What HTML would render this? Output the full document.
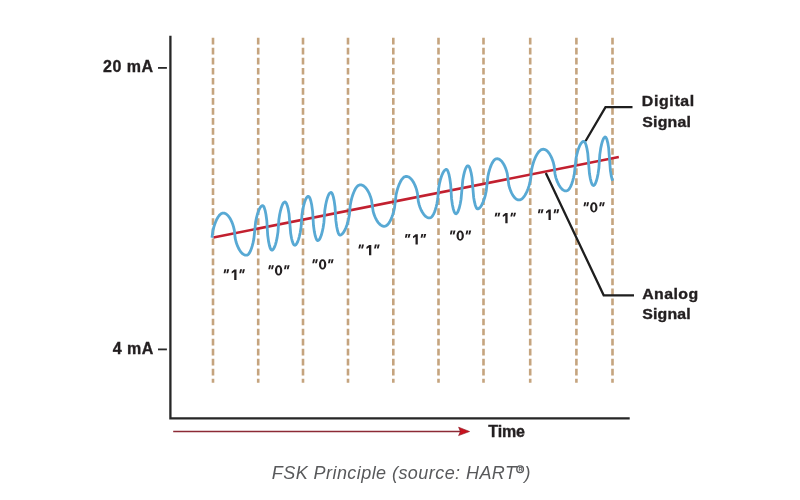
<!DOCTYPE html>
<html><head><meta charset="utf-8"><style>
html,body{margin:0;padding:0;background:#fff;}
body{width:800px;height:500px;overflow:hidden;}
svg{display:block;will-change:transform;}
text{font-family:"Liberation Sans",sans-serif;}
.lbl{font-weight:bold;fill:#231f20;stroke:#231f20;stroke-width:0.35px;}
.bit{font-weight:bold;font-size:14px;fill:#231f20;}
.q{font-style:italic;}
.cap{font-style:italic;font-size:18px;fill:#58595b;}
</style></head><body>
<svg width="800" height="500" viewBox="0 0 800 500">
<rect width="800" height="500" fill="#fff"/>
<g stroke="#c5a47e" stroke-width="2.6" stroke-dasharray="6.7 3.33" fill="none"><line x1="213.0" y1="37.8" x2="213.0" y2="382.8"/><line x1="258.2" y1="37.8" x2="258.2" y2="382.8"/><line x1="303.0" y1="37.8" x2="303.0" y2="382.8"/><line x1="348.0" y1="37.8" x2="348.0" y2="382.8"/><line x1="393.3" y1="37.8" x2="393.3" y2="382.8"/><line x1="438.5" y1="37.8" x2="438.5" y2="382.8"/><line x1="483.5" y1="37.8" x2="483.5" y2="382.8"/><line x1="530.2" y1="37.8" x2="530.2" y2="382.8"/><line x1="576.4" y1="37.8" x2="576.4" y2="382.8"/><line x1="612.5" y1="37.8" x2="612.5" y2="382.8"/></g>
<path d="M170.4,35.8 V418.4 H629.7" stroke="#262626" stroke-width="2.3" fill="none"/>
<line x1="158" y1="67.9" x2="166.9" y2="67.9" stroke="#2a2a2a" stroke-width="1.8"/>
<line x1="158" y1="349.4" x2="166.9" y2="349.4" stroke="#2a2a2a" stroke-width="1.8"/>
<text x="103.05" y="71.80" class="lbl" font-size="16.0" letter-spacing="0.488">20 mA</text>
<text x="112.66" y="354.00" class="lbl" font-size="16.0" letter-spacing="0.546">4 mA</text>
<line x1="213.4" y1="237.42" x2="618.8" y2="157.04" stroke="#c2202f" stroke-width="2.5"/>
<path d="M212.00,237.70 L212.88,230.92 L213.75,227.39 L214.62,224.58 L215.50,222.22 L216.38,220.19 L217.25,218.45 L218.12,216.97 L219.00,215.75 L219.88,214.76 L220.75,214.01 L221.62,213.49 L222.50,213.20 L223.34,213.11 L224.19,213.19 L225.03,213.44 L225.88,213.85 L226.72,214.43 L227.57,215.18 L228.41,216.11 L229.26,217.23 L230.10,218.54 L230.95,220.07 L231.79,221.86 L232.64,223.97 L233.48,226.56 L234.33,230.17 L235.17,238.13 L236.02,241.74 L236.86,244.33 L237.71,246.44 L238.55,248.23 L239.40,249.76 L240.24,251.07 L241.09,252.19 L241.93,253.12 L242.78,253.87 L243.62,254.45 L244.47,254.86 L245.31,255.11 L246.16,255.19 L247.00,255.10 L247.86,254.72 L248.72,253.91 L249.58,252.67 L250.44,250.99 L251.31,248.84 L252.17,246.18 L253.03,242.89 L253.89,238.64 L254.75,230.35 L255.61,222.06 L256.47,217.81 L257.33,214.52 L258.19,211.86 L259.06,209.71 L259.92,208.03 L260.78,206.79 L261.64,205.98 L262.50,205.60 L263.36,206.00 L264.23,207.55 L265.09,210.30 L265.95,214.44 L266.82,220.77 L267.68,235.03 L268.55,241.36 L269.41,245.50 L270.27,248.25 L271.14,249.80 L272.00,250.20 L272.85,249.73 L273.71,248.65 L274.56,246.96 L275.41,244.62 L276.27,241.57 L277.12,237.61 L277.97,232.04 L278.83,220.06 L279.68,214.49 L280.53,210.53 L281.39,207.48 L282.24,205.14 L283.09,203.45 L283.95,202.37 L284.80,201.90 L285.64,202.20 L286.48,203.44 L287.32,205.66 L288.17,208.96 L289.01,213.68 L289.85,223.60 L290.69,233.52 L291.53,238.24 L292.38,241.54 L293.22,243.76 L294.06,245.00 L294.90,245.30 L295.79,244.82 L296.67,243.72 L297.56,242.00 L298.45,239.63 L299.33,236.53 L300.22,232.52 L301.11,226.87 L301.99,214.73 L302.88,209.08 L303.77,205.07 L304.65,201.97 L305.54,199.60 L306.43,197.88 L307.31,196.78 L308.20,196.30 L309.08,196.69 L309.96,198.23 L310.85,200.96 L311.73,205.07 L312.61,211.36 L313.49,225.54 L314.37,231.83 L315.25,235.94 L316.14,238.67 L317.02,240.21 L317.90,240.60 L318.76,240.13 L319.62,239.05 L320.48,237.36 L321.34,235.03 L322.20,231.98 L323.06,228.04 L323.92,222.47 L324.78,210.53 L325.64,204.96 L326.50,201.02 L327.36,197.97 L328.22,195.64 L329.08,193.95 L329.94,192.87 L330.80,192.40 L331.65,192.78 L332.49,194.26 L333.34,196.90 L334.18,200.87 L335.03,206.95 L335.87,220.65 L336.72,226.73 L337.56,230.70 L338.41,233.34 L339.25,234.82 L340.10,235.20 L340.94,234.90 L341.79,234.35 L342.63,233.53 L343.47,232.44 L344.32,231.09 L345.16,229.45 L346.00,227.51 L346.85,225.23 L347.69,222.54 L348.53,219.27 L349.38,214.81 L350.22,205.39 L351.07,200.93 L351.91,197.66 L352.75,194.97 L353.60,192.69 L354.44,190.75 L355.28,189.11 L356.13,187.76 L356.97,186.67 L357.81,185.85 L358.66,185.30 L359.50,185.00 L360.35,184.91 L361.21,184.97 L362.06,185.18 L362.91,185.55 L363.77,186.07 L364.62,186.75 L365.47,187.59 L366.33,188.60 L367.18,189.79 L368.03,191.18 L368.89,192.79 L369.74,194.67 L370.59,196.92 L371.45,199.80 L372.30,205.60 L373.15,211.40 L374.01,214.28 L374.86,216.53 L375.71,218.41 L376.57,220.02 L377.42,221.41 L378.27,222.60 L379.13,223.61 L379.98,224.45 L380.83,225.13 L381.69,225.65 L382.54,226.02 L383.39,226.23 L384.25,226.29 L385.10,226.20 L385.95,225.91 L386.80,225.39 L387.65,224.64 L388.50,223.64 L389.35,222.40 L390.20,220.90 L391.05,219.14 L391.90,217.08 L392.75,214.68 L393.60,211.83 L394.45,208.25 L395.30,201.35 L396.15,194.45 L397.00,190.87 L397.85,188.02 L398.70,185.62 L399.55,183.56 L400.40,181.80 L401.25,180.30 L402.10,179.06 L402.95,178.06 L403.80,177.31 L404.65,176.79 L405.50,176.50 L406.35,176.41 L407.20,176.49 L408.06,176.73 L408.91,177.13 L409.76,177.70 L410.61,178.44 L411.46,179.36 L412.31,180.45 L413.17,181.75 L414.02,183.26 L414.87,185.02 L415.72,187.10 L416.57,189.66 L417.42,193.22 L418.28,201.08 L419.13,204.64 L419.98,207.20 L420.83,209.28 L421.68,211.04 L422.53,212.55 L423.39,213.85 L424.24,214.94 L425.09,215.86 L425.94,216.60 L426.79,217.17 L427.64,217.57 L428.50,217.81 L429.35,217.89 L430.20,217.80 L431.04,217.45 L431.88,216.72 L432.73,215.62 L433.57,214.14 L434.41,212.25 L435.25,209.93 L436.09,207.10 L436.94,203.59 L437.78,198.75 L438.62,188.45 L439.46,183.61 L440.31,180.10 L441.15,177.27 L441.99,174.95 L442.83,173.06 L443.67,171.58 L444.52,170.48 L445.36,169.75 L446.20,169.40 L447.09,169.79 L447.98,171.33 L448.87,174.07 L449.76,178.19 L450.65,184.50 L451.55,198.70 L452.44,205.01 L453.33,209.13 L454.22,211.87 L455.11,213.41 L456.00,213.80 L456.84,213.29 L457.69,212.08 L458.53,210.16 L459.37,207.50 L460.21,203.97 L461.06,199.23 L461.90,189.80 L462.74,180.37 L463.59,175.63 L464.43,172.10 L465.27,169.44 L466.11,167.52 L466.96,166.31 L467.80,165.80 L468.63,166.10 L469.47,167.33 L470.30,169.54 L471.13,172.81 L471.97,177.50 L472.80,187.35 L473.63,197.20 L474.47,201.89 L475.30,205.16 L476.13,207.37 L476.97,208.60 L477.80,208.90 L478.64,208.59 L479.48,208.00 L480.32,207.12 L481.16,205.95 L482.00,204.48 L482.85,202.69 L483.69,200.57 L484.53,198.06 L485.37,195.04 L486.21,191.22 L487.05,183.85 L487.89,176.48 L488.73,172.66 L489.57,169.64 L490.41,167.13 L491.25,165.01 L492.10,163.22 L492.94,161.75 L493.78,160.58 L494.62,159.70 L495.46,159.11 L496.30,158.80 L497.14,158.72 L497.98,158.81 L498.82,159.08 L499.66,159.52 L500.50,160.14 L501.34,160.94 L502.18,161.93 L503.01,163.12 L503.85,164.51 L504.69,166.15 L505.53,168.08 L506.37,170.40 L507.21,173.37 L508.05,179.35 L508.89,185.33 L509.73,188.30 L510.57,190.62 L511.41,192.55 L512.25,194.19 L513.09,195.58 L513.92,196.77 L514.76,197.76 L515.60,198.56 L516.44,199.18 L517.28,199.62 L518.12,199.89 L518.96,199.98 L519.80,199.90 L520.64,199.64 L521.47,199.19 L522.31,198.56 L523.15,197.73 L523.99,196.71 L524.82,195.50 L525.66,194.08 L526.50,192.44 L527.33,190.56 L528.17,188.41 L529.01,185.91 L529.84,182.91 L530.68,178.87 L531.52,170.33 L532.36,166.29 L533.19,163.29 L534.03,160.79 L534.87,158.64 L535.70,156.76 L536.54,155.12 L537.38,153.70 L538.21,152.49 L539.05,151.47 L539.89,150.64 L540.73,150.01 L541.56,149.56 L542.40,149.30 L543.24,149.21 L544.08,149.29 L544.92,149.54 L545.77,149.94 L546.61,150.52 L547.45,151.26 L548.29,152.18 L549.13,153.29 L549.97,154.59 L550.81,156.10 L551.66,157.87 L552.50,159.96 L553.34,162.53 L554.18,166.11 L555.02,173.99 L555.86,177.57 L556.70,180.14 L557.54,182.23 L558.39,184.00 L559.23,185.51 L560.07,186.81 L560.91,187.92 L561.75,188.84 L562.59,189.58 L563.43,190.16 L564.28,190.56 L565.12,190.81 L565.96,190.89 L566.80,190.80 L567.64,190.46 L568.48,189.78 L569.32,188.76 L570.16,187.38 L571.00,185.63 L571.84,183.50 L572.68,180.92 L573.52,177.79 L574.36,173.80 L575.20,166.05 L576.04,158.30 L576.88,154.31 L577.72,151.18 L578.56,148.60 L579.40,146.47 L580.24,144.72 L581.08,143.34 L581.92,142.32 L582.76,141.64 L583.60,141.30 L584.43,141.61 L585.27,142.88 L586.10,145.14 L586.93,148.50 L587.77,153.30 L588.60,163.40 L589.43,173.50 L590.27,178.30 L591.10,181.66 L591.93,183.92 L592.77,185.19 L593.60,185.50 L594.48,184.92 L595.37,183.52 L596.25,181.29 L597.14,178.15 L598.02,173.92 L598.91,167.83 L599.79,154.67 L600.68,148.58 L601.56,144.35 L602.45,141.21 L603.33,138.98 L604.22,137.58 L605.10,137.00 L605.99,137.52 L606.88,139.44 L607.77,142.85 L608.66,148.12 L609.55,159.50 L610.44,170.88 L611.33,176.15 L612.22,179.56 L612.70,180.77" stroke="#58a9d4" stroke-width="2.8" fill="none" stroke-linejoin="round"/>
<path d="M545.8,173 L603.7,295.3 H634" stroke="#1e1e1e" stroke-width="2.3" fill="none"/>
<path d="M585.6,141 L605.5,107.1 H632.5" stroke="#1e1e1e" stroke-width="2.3" fill="none"/>
<text transform="translate(641.74,106.40) scale(1.06,1)" class="lbl" font-size="15.0" letter-spacing="0.630">Digital</text>
<text transform="translate(642.34,126.60) scale(1.06,1)" class="lbl" font-size="15.0" letter-spacing="0.165">Signal</text>
<text transform="translate(642.20,299.20) scale(1.06,1)" class="lbl" font-size="15.0" letter-spacing="0.411">Analog</text>
<text transform="translate(642.34,319.30) scale(1.06,1)" class="lbl" font-size="15.0" letter-spacing="0.128">Signal</text>
<path d="M224.40,269.30 L226.40,269.30 L225.30,273.20 L223.60,273.20ZM227.20,269.30 L229.20,269.30 L228.10,273.20 L226.40,273.20ZM234.30,269.60 L236.50,269.60 L236.50,279.90 L234.20,279.90 L234.20,272.10 L231.80,273.60 L231.60,271.80ZM240.10,269.30 L242.10,269.30 L241.00,273.20 L239.30,273.20ZM242.90,269.30 L244.90,269.30 L243.80,273.20 L242.10,273.20ZM269.10,265.30 L271.10,265.30 L270.00,269.20 L268.30,269.20ZM271.90,265.30 L273.90,265.30 L272.80,269.20 L271.10,269.20ZM274.90,270.40 A3.7,5.1 0 1 1 282.30,270.40 A3.7,5.1 0 1 1 274.90,270.40Z M277.10,270.40 A1.5,3.4 0 1 0 280.10,270.40 A1.5,3.4 0 1 0 277.10,270.40Z M284.80,265.30 L286.80,265.30 L285.70,269.20 L284.00,269.20ZM287.60,265.30 L289.60,265.30 L288.50,269.20 L286.80,269.20ZM313.10,259.30 L315.10,259.30 L314.00,263.20 L312.30,263.20ZM315.90,259.30 L317.90,259.30 L316.80,263.20 L315.10,263.20ZM318.90,264.40 A3.7,5.1 0 1 1 326.30,264.40 A3.7,5.1 0 1 1 318.90,264.40Z M321.10,264.40 A1.5,3.4 0 1 0 324.10,264.40 A1.5,3.4 0 1 0 321.10,264.40Z M328.80,259.30 L330.80,259.30 L329.70,263.20 L328.00,263.20ZM331.60,259.30 L333.60,259.30 L332.50,263.20 L330.80,263.20ZM359.20,244.60 L361.20,244.60 L360.10,248.50 L358.40,248.50ZM362.00,244.60 L364.00,244.60 L362.90,248.50 L361.20,248.50ZM369.10,244.90 L371.30,244.90 L371.30,255.20 L369.00,255.20 L369.00,247.40 L366.60,248.90 L366.40,247.10ZM374.90,244.60 L376.90,244.60 L375.80,248.50 L374.10,248.50ZM377.70,244.60 L379.70,244.60 L378.60,248.50 L376.90,248.50ZM405.70,233.90 L407.70,233.90 L406.60,237.80 L404.90,237.80ZM408.50,233.90 L410.50,233.90 L409.40,237.80 L407.70,237.80ZM415.60,234.20 L417.80,234.20 L417.80,244.50 L415.50,244.50 L415.50,236.70 L413.10,238.20 L412.90,236.40ZM421.40,233.90 L423.40,233.90 L422.30,237.80 L420.60,237.80ZM424.20,233.90 L426.20,233.90 L425.10,237.80 L423.40,237.80ZM450.70,230.60 L452.70,230.60 L451.60,234.50 L449.90,234.50ZM453.50,230.60 L455.50,230.60 L454.40,234.50 L452.70,234.50ZM456.50,235.70 A3.7,5.1 0 1 1 463.90,235.70 A3.7,5.1 0 1 1 456.50,235.70Z M458.70,235.70 A1.5,3.4 0 1 0 461.70,235.70 A1.5,3.4 0 1 0 458.70,235.70Z M466.40,230.60 L468.40,230.60 L467.30,234.50 L465.60,234.50ZM469.20,230.60 L471.20,230.60 L470.10,234.50 L468.40,234.50ZM495.50,212.70 L497.50,212.70 L496.40,216.60 L494.70,216.60ZM498.30,212.70 L500.30,212.70 L499.20,216.60 L497.50,216.60ZM505.40,213.00 L507.60,213.00 L507.60,223.30 L505.30,223.30 L505.30,215.50 L502.90,217.00 L502.70,215.20ZM511.20,212.70 L513.20,212.70 L512.10,216.60 L510.40,216.60ZM514.00,212.70 L516.00,212.70 L514.90,216.60 L513.20,216.60ZM538.70,209.30 L540.70,209.30 L539.60,213.20 L537.90,213.20ZM541.50,209.30 L543.50,209.30 L542.40,213.20 L540.70,213.20ZM548.60,209.60 L550.80,209.60 L550.80,219.90 L548.50,219.90 L548.50,212.10 L546.10,213.60 L545.90,211.80ZM554.40,209.30 L556.40,209.30 L555.30,213.20 L553.60,213.20ZM557.20,209.30 L559.20,209.30 L558.10,213.20 L556.40,213.20ZM584.30,202.30 L586.30,202.30 L585.20,206.20 L583.50,206.20ZM587.10,202.30 L589.10,202.30 L588.00,206.20 L586.30,206.20ZM590.10,207.40 A3.7,5.1 0 1 1 597.50,207.40 A3.7,5.1 0 1 1 590.10,207.40Z M592.30,207.40 A1.5,3.4 0 1 0 595.30,207.40 A1.5,3.4 0 1 0 592.30,207.40Z M600.00,202.30 L602.00,202.30 L600.90,206.20 L599.20,206.20ZM602.80,202.30 L604.80,202.30 L603.70,206.20 L602.00,206.20Z" fill="#231f20" fill-rule="evenodd"/>
<line x1="173.2" y1="431.5" x2="461" y2="431.5" stroke="#8c2a35" stroke-width="1.4"/>
<path d="M458.6,427.2 L469.6,431.5 L458.6,435.6 L460.4,431.5 Z" fill="#c8121e" stroke="#8c1a24" stroke-width="0.6" stroke-linejoin="round"/>
<text x="488.32" y="436.80" class="lbl" font-size="16.0" letter-spacing="-0.139">Time</text>
<text x="271.8" y="479" class="cap" letter-spacing="0.44">FSK Principle (source: HART</text>
<circle cx="520.1" cy="469.2" r="3.3" fill="none" stroke="#58595b" stroke-width="1.4"/>
<text x="518.4" y="471.4" font-size="5.5" font-weight="bold" fill="#58595b">R</text>
<text x="524.4" y="479" class="cap">)</text>
</svg>
</body></html>
